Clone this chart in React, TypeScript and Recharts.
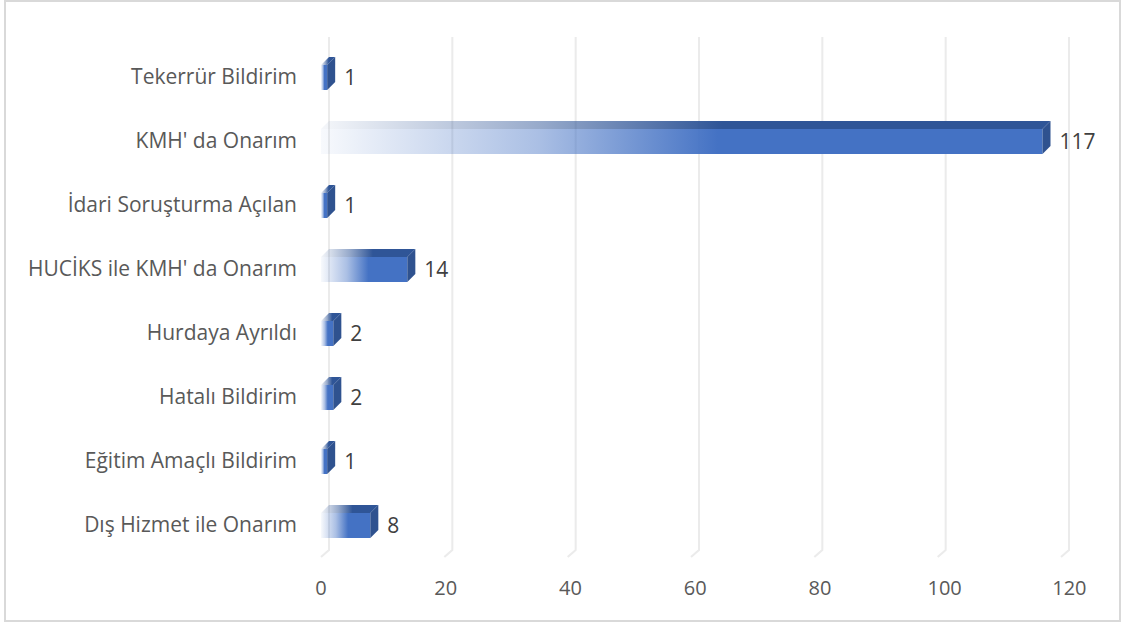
import { BarChart, Bar, XAxis, YAxis, CartesianGrid, LabelList } from 'recharts';

const categories = [
  'Tekerrür Bildirim',
  "KMH' da Onarım",
  'İdari Soruşturma Açılan',
  "HUCİKS ile KMH' da Onarım",
  'Hurdaya Ayrıldı',
  'Hatalı Bildirim',
  'Eğitim Amaçlı Bildirim',
  'Dış Hizmet ile Onarım',
];
const counts = [1, 117, 1, 14, 2, 2, 1, 8];
const xTicks = [0, 20, 40, 60, 80, 100, 120];

const data = categories.map((name, i) => ({ name, value: counts[i] }));

const DX = 8;
const DY = 8;
const FONT = '"Open Sans", sans-serif';

// 3D-looking bar: front face, top face and right side
const Bar3D = (props: any) => {
  const { x, y, width, height } = props;
  if (width == null || height == null) return null;
  const w = Math.max(width, 0);
  return (
    <g>
      <polygon
        points={`${x},${y} ${x + DX},${y - DY} ${x + w + DX},${y - DY} ${x + w},${y}`}
        fill="url(#topFace)"
      />
      <rect x={x} y={y} width={w} height={height} fill="url(#frontFace)" />
      <polygon
        points={`${x + w},${y} ${x + w + DX},${y - DY} ${x + w + DX},${y + height - DY} ${x + w},${y + height}`}
        fill="#2F528F"
      />
    </g>
  );
};

// grid line drawn on the back wall with a short floor segment
const GridLine = (props: any) => {
  const { x1, y1, y2, index } = props;
  return (
    <path
      key={`g-${index}`}
      d={`M${x1 + DX},${y1 - DY} L${x1 + DX},${y2 - 7} L${x1},${y2}`}
      stroke="#EBEBEB"
      strokeWidth={2}
      fill="none"
    />
  );
};

// x tick labels sit a bit further right the larger the value (perspective)
const XTick = (props: any) => {
  const { x, y, payload } = props;
  return (
    <text
      x={x + payload.value * 0.07}
      y={y}
      dy={15}
      textAnchor="middle"
      fill="#595959"
      fontSize={20}
      fontFamily={FONT}
    >
      {payload.value}
    </text>
  );
};

export default function App() {
  return (
    <div style={{ position: 'absolute', left: 0, top: 0, width: 1121, height: 625, background: '#fff' }}>
      <div
        style={{
          position: 'absolute',
          left: 4,
          top: 0,
          width: 1117,
          height: 622,
          border: '2px solid #D9D9D9',
          boxSizing: 'border-box',
        }}
      />
      <div style={{ position: 'absolute', left: 0, top: 0 }}>
        <BarChart
          width={1121}
          height={625}
          data={data}
          layout="vertical"
          margin={{ top: 45, right: 60, left: 0, bottom: 28 }}
        >
          <defs>
            <linearGradient id="frontFace" x1="0" y1="0" x2="1" y2="0">
              <stop offset="0" stopColor="#4472C4" stopOpacity={0.04} />
              <stop offset="0.3" stopColor="#4472C4" stopOpacity={0.45} />
              <stop offset="0.55" stopColor="#4472C4" stopOpacity={1} />
              <stop offset="1" stopColor="#4472C4" stopOpacity={1} />
            </linearGradient>
            <linearGradient id="topFace" x1="0" y1="0" x2="1" y2="0">
              <stop offset="0" stopColor="#2F5597" stopOpacity={0.05} />
              <stop offset="0.3" stopColor="#2F5597" stopOpacity={0.5} />
              <stop offset="0.55" stopColor="#2F5597" stopOpacity={1} />
              <stop offset="1" stopColor="#2F5597" stopOpacity={1} />
            </linearGradient>
          </defs>
          <CartesianGrid horizontal={false} vertical={GridLine} />
          <XAxis
            type="number"
            domain={[0, 120]}
            ticks={xTicks}
            axisLine={false}
            tickLine={false}
            tickMargin={17}
            height={40}
            tick={XTick}
          />
          <YAxis
            type="category"
            dataKey="name"
            width={321}
            axisLine={false}
            tickLine={false}
            tickMargin={18}
            interval={0}
            tick={{ fill: '#595959', fontSize: 21, fontFamily: FONT }}
          />
          <Bar dataKey="value" barSize={25} shape={Bar3D} isAnimationActive={false}>
            <LabelList
              dataKey="value"
              position="right"
              offset={17}
              fill="#404040"
              fontSize={21}
              fontFamily={FONT}
            />
          </Bar>
        </BarChart>
      </div>
    </div>
  );
}
